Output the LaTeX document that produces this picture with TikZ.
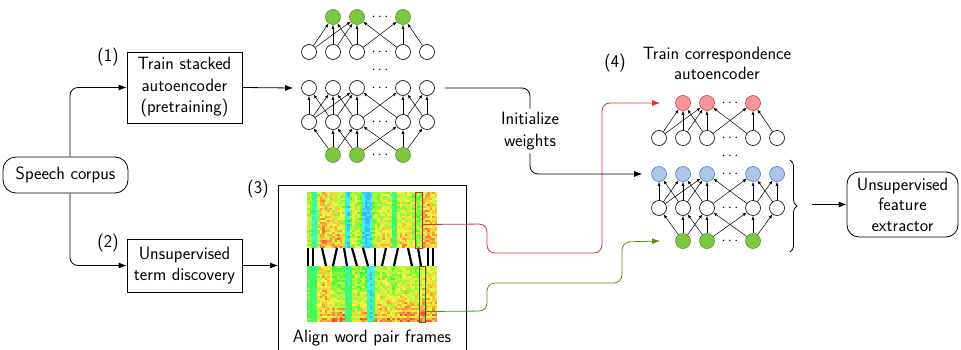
\documentclass[tikz,border=0pt]{standalone}
\usepackage{fontspec}
\usetikzlibrary{arrows.meta,decorations.pathreplacing}
\definecolor{gfill}{RGB}{125,200,65}
\definecolor{gdraw}{RGB}{85,150,40}
\definecolor{rfill}{RGB}{245,150,155}
\definecolor{rdraw}{RGB}{215,60,60}
\definecolor{bfill}{RGB}{170,198,232}
\definecolor{bdraw}{RGB}{70,130,200}
\definecolor{redl}{RGB}{220,50,50}
\definecolor{greenl}{RGB}{80,150,20}
\definecolor{redrect}{RGB}{200,40,40}
\definecolor{greenrect}{RGB}{40,110,20}
\tikzset{
  box/.style={draw, line width=0.8pt, align=center, inner sep=0pt},
  nn/.style={circle, draw, line width=0.6pt, minimum size=15pt, inner sep=0pt, fill=white},
  gn/.style={fill=gfill, draw=gdraw},
  rn/.style={fill=rfill, draw=rdraw},
  bn/.style={fill=bfill, draw=bdraw},
  wn/.style={},
  na/.style={-{Latex[length=4pt,width=3pt]}, line width=0.5pt},
  conn/.style={line width=0.8pt, rounded corners=8pt},
  dotn/.style={font=\fontsize{15}{15}\selectfont, inner sep=0pt},
}
\newcommand\drawnet[4]{%
\begin{scope}[shift={#4}]
  \foreach \cc/\xx in {2/24,3/48,5/94} \node[nn,#2] (#1-1-\cc) at (\xx,0) {};
  \foreach \cc/\xx in {1/0,2/24,3/48,5/94,6/118} {
    \node[nn] (#1-2-\cc) at (\xx,35) {};
    \node[nn,#3] (#1-3-\cc) at (\xx,71) {};
    \node[nn] (#1-4-\cc) at (\xx,105) {};
  }
  \foreach \cc/\xx in {2/24,3/48,5/94} \node[nn,gn] (#1-5-\cc) at (\xx,138) {};
  \foreach \yy in {0,35,53,71,105,138} \node[dotn] at (71,\yy) {$\cdots$};
  \foreach \aa/\bb in {1/2,1/3,2/2,2/3,3/2,3/3,3/5,5/3,5/5,6/5}
    \draw[na] (#1-2-\aa) -- (#1-1-\bb);
  \foreach \aa/\bb in {1/1,1/2,1/3,2/1,2/2,2/3,3/2,3/3,3/5,5/3,5/5,5/6,6/5,6/6}
    \draw[na] (#1-4-\aa) -- (#1-3-\bb);
  \foreach \aa/\bb in {2/1,2/2,2/3,3/2,3/3,3/5,5/3,5/5,5/6}
    \draw[na] (#1-5-\aa) -- (#1-4-\bb);
\end{scope}}
\def\topbase{{0.45,0.45,0.1,0.1,0.5,0.65,0.68,0.65,0.6,0.6,0.55,0.55,0.55,0.55,0.5,0.05,-0.1,0.45,0.5,0.5,0.45,0.4,-0.1,-0.2,-0.2,-0.05,0.4,0.5,0.5,0.5,0.55,0.55,0.5,0.5,0.2,0.25,0.5,0.55,0.55,0.55,0.5,0.5,0.45,0.4,0.4,0.45,0.7,0.72,0.7,0.68,0.65,0.6}}
\def\topheat{{0.1,0.1,0,0,0.1,0.2,0.2,0.2,0.2,0.3,0.45,0.5,0.5,0.45,0.4,0,0,0.1,0.1,0.1,0.1,0.1,0,0,0,0,0.1,0.2,0.2,0.3,0.4,0.45,0.4,0.4,0,0.1,0.35,0.4,0.4,0.4,0.35,0.3,0.2,0.1,0.1,0.1,0.1,0.1,0.1,0.1,0.1,0.1}}
\def\botbase{{0.3,0.2,0.2,0.25,0.5,0.6,0.65,0.65,0.6,0.55,0.35,0.3,0.35,0.4,0.35,0.15,0.1,0.2,0.45,0.45,0.4,0.35,0.4,0.35,0,-0.1,0.1,0.45,0.5,0.5,0.45,0.5,0.5,0.45,0.4,0.45,0.5,0.5,0.5,0.55,0.5,0.5,0.5,0.45,0.5,0.6,0.65,0.65,0.6,0.6,0.6,0.55}}
\def\botheat{{0.1,0.1,0.1,0.1,0.2,0.2,0.2,0.2,0.2,0.2,0.7,0.7,0.7,0.7,0.7,0.1,0.1,0.1,0.2,0.2,0.2,0.7,0.7,0.7,0.1,0.1,0.1,0.45,0.45,0.45,0.45,0.45,0.45,0.45,0.45,0.45,0.45,0.5,0.5,0.5,0.5,0.5,0.5,0.5,0.5,0.3,0.3,0.3,0.3,0.3,0.3,0.3}}
\newcommand\drawspec[5]{%
  \foreach \i in {0,...,51}{
    \foreach \j in {0,...,27}{
      \pgfmathsetmacro\hv{min(0.56,max(0,0.5-0.5*(#3[\i]+0.05+#5*#4[\i]*(\j/27)*(\j/27)*(0.5+0.6*abs(sin(\j*65)))+0.15*rand)))}
      \definecolor{sc}{hsb}{\hv,0.75,0.97}
      \fill[sc] (#1+2.5*\i,#2+2*\j) rectangle ++(2.6,2.1);
    }}}
\begin{document}
\begin{tikzpicture}[x=1pt,y=-1pt,font=\sffamily\fontsize{17.8}{21.5}\selectfont,
  >={Latex[length=8pt,width=6pt]}]
\useasboundingbox (0,0) rectangle (961,350);
\pgfmathsetseed{7}
% left boxes
\node[box, rounded corners=13pt, minimum width=125pt, minimum height=36pt] (sc) at (65.5,175) {Speech corpus};
\node[box, minimum width=115pt, minimum height=71pt] (b1) at (184.5,87.5) {Train stacked\\autoencoder\\(pretraining)};
\node[box, minimum width=115pt, minimum height=53pt] (b2) at (184.5,265.5) {Unsupervised\\term discovery};
\node (l1) at (108,57) {(1)};
\node (l2) at (108,243) {(2)};
\node (l3) at (258,189) {(3)};
\node (l4) at (615,63) {(4)};
\draw[conn,->] ([xshift=4.5pt]sc.north) |- (b1.west);
\draw[conn,->] ([xshift=4.5pt]sc.south) |- (b2.west);
% spectrogram box
\node[draw, line width=0.8pt, minimum width=188pt, minimum height=166pt, anchor=north west, inner sep=0pt] (b3) at (278,185) {};
\draw[conn,->] (b2.east) -- (b2.east -| b3.west);
\drawspec{307}{192}{\topbase}{\topheat}{0.45}
\drawspec{307}{266}{\botbase}{\botheat}{0.75}
\foreach \a/\b in {308/308,313/313,322/326,337/333,344/347,352/357,363/368,375/375,386/382,398/394,408/412,418/421,428/428,433/433}
  \draw[line width=2.2pt] (\a,248) -- (\b,266);
\node[draw=redrect, line width=1pt, minimum width=7pt, minimum height=56pt, anchor=north west, inner sep=0pt] (rr) at (415,192) {};
\node[draw=greenrect, line width=1pt, minimum width=6pt, minimum height=56pt, anchor=north west, inner sep=0pt] (gr) at (419,266) {};
\node (al) at (372,338) {Align word pair frames};
% networks
\drawnet{n1}{gn}{wn}{(309,17)}
\drawnet{n2}{rn}{bn}{(659,103)}
\draw[conn,->] (b1.east) -- ([xshift=-8pt]n1-3-1.west);
\node[align=center] (iw) at (530,131) {Initialize\\weights};
\draw[conn] ([xshift=10pt]n1-3-6.east) -| (iw.north);
\node[align=center, font=\sffamily\fontsize{17.8}{20}\selectfont] (tc) at (717,63) {Train correspondence\\autoencoder};
% red and green paths
\draw[conn, draw=redl, -{Latex[length=8pt,width=6pt]}, color=redl] ([yshift=-4pt]rr.east) -- (487,224) -- (487,253) -- (602,253) -- (602,103) -- ([xshift=-15pt]n2-1-2.west);
\draw[conn, draw=greenl, -{Latex[length=8pt,width=6pt]}, color=greenl] ([yshift=-17pt]gr.east) -- (487,311) -- (487,283) -- (622,283) -- (622,242) -- ([xshift=-15pt]n2-5-2.west);
\draw[conn,->] (iw.south) |- ([xshift=-9pt]n2-3-1.west);
% brace and output
\draw[decorate, decoration={brace, amplitude=7pt}, line width=0.8pt] (790,160) -- (790,252);
\node[box, rounded corners=12pt, minimum width=111pt, minimum height=65pt, font=\sffamily\fontsize{17.8}{20.5}\selectfont] (fe) at (902.5,204.5) {Unsupervised\\feature\\extractor};
\coordinate (bt) at (812,204.5);
\draw[conn,->] (bt) -- (fe.west);
\end{tikzpicture}
\end{document}
